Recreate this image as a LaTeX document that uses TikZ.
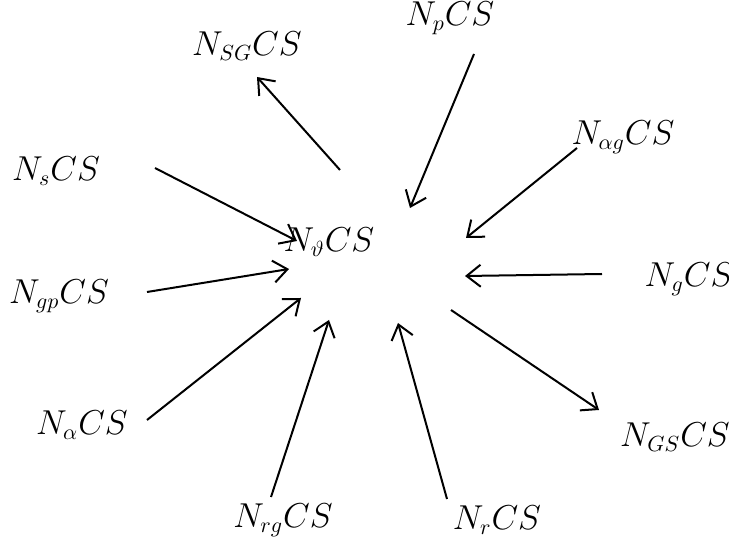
\documentclass[tikz,border=0pt]{standalone}
\usetikzlibrary{arrows.meta}
\begin{document}
\begin{tikzpicture}[x=0.5pt, y=-0.5pt, -{Straight Barb[length=7pt,width=11pt]}, line width=1pt,
    lbl/.style={font=\fontsize{16}{19}\selectfont}]
        \useasboundingbox (0,0) rectangle (729,539);
        % Nodes
        \node (SG) [lbl] at (247,46) {$N_{SG}CS$};
        \node (P) [lbl] at (450,18) {$N_{p}CS$};
        \node (AG) [lbl] at (623,137) {$N_{\alpha g}CS$};
        \node (V) [lbl] at (329,242) {$N_{\vartheta}CS$};
        \node (S) [lbl] at (56,171) {$N_{s}CS$};
        \node (GP) [lbl] at (59,296) {$N_{gp}CS$};
        \node (A) [lbl] at (82,425) {$N_{\alpha}CS$};
        \node (RG) [lbl] at (283,520) {$N_{rg}CS$};
        \node (R) [lbl] at (497,520) {$N_{r}CS$};
        \node (GS) [lbl] at (675,437) {$N_{GS}CS$};
        \node (G) [lbl] at (689,279) {$N_{g}CS$};

        % Arrow ends
        \coordinate (sg0) at (340,170);  \coordinate (sg1) at (257,77);
        \coordinate (p0) at (474,54);    \coordinate (p1) at (410,208);
        \coordinate (ag0) at (577,148);  \coordinate (ag1) at (466,238);
        \coordinate (s0) at (155,168);   \coordinate (s1) at (297,241);
        \coordinate (gp0) at (147,292);  \coordinate (gp1) at (289,269);
        \coordinate (a0) at (147,420);   \coordinate (a1) at (301,298);
        \coordinate (rg0) at (271,497);  \coordinate (rg1) at (329,320);
        \coordinate (r0) at (447,499);   \coordinate (r1) at (398,323);
        \coordinate (g0) at (602,274);   \coordinate (g1) at (465,276);
        \coordinate (gs0) at (451,310);  \coordinate (gs1) at (599,410);

        % Arrows
        \draw (sg0) -- (sg1);
        \draw (p0) -- (p1);
        \draw (ag0) -- (ag1);
        \draw (s0) -- (s1);
        \draw (gp0) -- (gp1);
        \draw (a0) -- (a1);
        \draw (rg0) -- (rg1);
        \draw (r0) -- (r1);
        \draw (g0) -- (g1);
        \draw (gs0) -- (gs1);
    \end{tikzpicture}
\end{document}
